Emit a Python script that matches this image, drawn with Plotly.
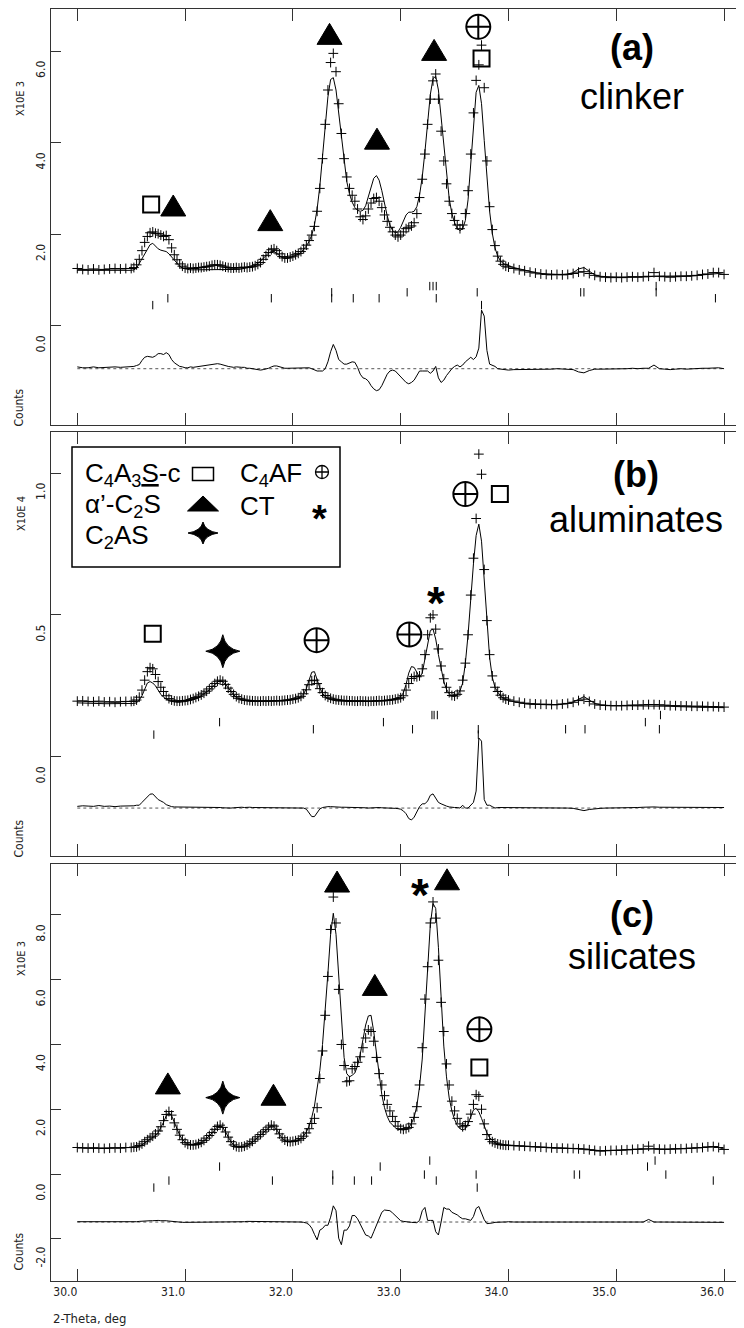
import plotly.graph_objects as go

# the page body adds an 8 px margin, so the figure is drawn 8 px right / down
OFF = 8
W, H = 744 - OFF, 1328 - OFF
NARROW = "Liberation Sans Narrow, Arial Narrow, DejaVu Sans Condensed, Liberation Sans, sans-serif"
SANS = "Liberation Sans, Arial, Helvetica, sans-serif"
INK = "black"
FRAME = "#333333"

# ---------------------------------------------------------------- data
# 2-theta sampling grid (deg)
two_theta = ([round(30.0 + 0.05 * i, 3) for i in range(10)]
             + [round(30.5 + 0.025 * i, 3) for i in range(141)]
             + [round(34.05 + 0.05 * i, 3) for i in range(40)])

# (a) clinker, counts x 10^3
obs_a = [1.25, 1.23, 1.22, 1.24, 1.22, 1.23, 1.24, 1.25, 1.24, 1.25,
         1.25, 1.27, 1.33, 1.45, 1.64, 1.82, 1.95, 2.03, 2.05, 2.02, 2.01, 1.98, 1.95, 1.97, 1.88, 1.70, 1.55, 1.44, 1.35, 1.30, 1.26,
         1.25, 1.26, 1.25, 1.26, 1.27, 1.27, 1.28, 1.29, 1.30, 1.32, 1.33, 1.33, 1.32, 1.30, 1.28, 1.27, 1.26, 1.26, 1.27, 1.26, 1.27, 1.28, 1.27, 1.28, 1.29, 1.31, 1.34, 1.38,
         1.45, 1.53, 1.60, 1.66, 1.68, 1.64, 1.57, 1.51, 1.48, 1.48, 1.50, 1.52,
         1.55, 1.58, 1.62, 1.68, 1.76, 1.86, 1.98, 2.17, 2.50, 3.00, 3.65, 4.40, 5.15, 5.75, 5.95, 5.55, 4.85, 4.20, 3.65, 3.25,
         3.00, 2.85, 2.72, 2.55, 2.38, 2.32, 2.40, 2.55, 2.68, 2.78, 2.80, 2.72, 2.58, 2.42, 2.28, 2.15, 2.05, 1.98, 1.94, 1.98,
         2.05, 2.12, 2.15, 2.18, 2.25, 2.45, 2.80, 3.20, 3.75, 4.40, 4.95, 5.35, 5.50, 4.95, 4.25, 3.60, 3.10, 2.72, 2.45, 2.30,
         2.20, 2.12, 2.20, 2.45, 2.95, 3.75, 4.65, 5.36, 5.70, 6.13, 5.20, 3.60, 2.60, 2.10, 1.75, 1.52, 1.41, 1.34, 1.30, 1.28,
         1.25, 1.22, 1.20, 1.17, 1.15, 1.13, 1.12, 1.11, 1.12, 1.11, 1.12, 1.14, 1.17, 1.18, 1.14, 1.10, 1.07, 1.06, 1.05, 1.06,
         1.05, 1.06, 1.07, 1.06, 1.07, 1.08, 1.16, 1.08, 1.07, 1.06, 1.07, 1.08, 1.08, 1.09, 1.10, 1.12, 1.13, 1.16, 1.16, 1.12]
calc_a = [1.21, 1.21, 1.20, 1.20, 1.20, 1.20, 1.20, 1.21, 1.21, 1.21,
          1.21, 1.22, 1.26, 1.36, 1.46, 1.57, 1.68, 1.77, 1.80, 1.74, 1.68, 1.65, 1.64, 1.62, 1.57, 1.50, 1.42, 1.35, 1.30, 1.26, 1.24,
          1.23, 1.22, 1.22, 1.22, 1.22, 1.22, 1.22, 1.22, 1.22, 1.22, 1.22, 1.22, 1.22, 1.22, 1.22, 1.22, 1.22, 1.23, 1.23, 1.23, 1.24, 1.25, 1.26, 1.27, 1.29, 1.32, 1.36, 1.41,
          1.47, 1.54, 1.59, 1.62, 1.62, 1.58, 1.53, 1.49, 1.47, 1.47, 1.49, 1.51,
          1.53, 1.56, 1.60, 1.66, 1.74, 1.84, 1.98, 2.20, 2.55, 3.05, 3.70, 4.40, 5.00, 5.38, 5.42, 5.15, 4.65, 4.05, 3.55, 3.15,
          2.88, 2.70, 2.58, 2.52, 2.50, 2.52, 2.62, 2.82, 3.05, 3.22, 3.28, 3.18, 2.95, 2.66, 2.40, 2.20, 2.08, 2.03, 2.05, 2.15,
          2.30, 2.42, 2.48, 2.48, 2.50, 2.60, 2.85, 3.25, 3.80, 4.45, 5.05, 5.40, 5.45, 5.15, 4.55, 3.85, 3.25, 2.78, 2.45, 2.25,
          2.12, 2.08, 2.12, 2.30, 2.75, 3.50, 4.45, 5.10, 5.25, 4.85, 4.05, 3.20, 2.50, 2.02, 1.70, 1.52, 1.42, 1.36, 1.33, 1.31,
          1.27, 1.24, 1.21, 1.18, 1.16, 1.14, 1.13, 1.12, 1.12, 1.12, 1.13, 1.16, 1.24, 1.27, 1.18, 1.11, 1.08, 1.07, 1.06, 1.06,
          1.06, 1.06, 1.06, 1.06, 1.06, 1.07, 1.08, 1.08, 1.08, 1.08, 1.08, 1.08, 1.09, 1.09, 1.10, 1.11, 1.12, 1.14, 1.14, 1.12]

# (b) aluminates, counts x 10^4
obs_b = [0.196, 0.197, 0.195, 0.194, 0.196, 0.193, 0.194, 0.192, 0.194, 0.195,
         0.195, 0.196, 0.200, 0.210, 0.235, 0.270, 0.300, 0.314, 0.310, 0.290, 0.265, 0.245, 0.230, 0.215, 0.205, 0.200, 0.197, 0.196, 0.196, 0.197, 0.198,
         0.199, 0.202, 0.205, 0.209, 0.213, 0.218, 0.224, 0.231, 0.239, 0.248, 0.258, 0.266, 0.270, 0.266, 0.255, 0.242, 0.230, 0.220, 0.212, 0.206, 0.203, 0.200, 0.199, 0.198, 0.197, 0.197, 0.196, 0.196,
         0.197, 0.196, 0.197, 0.196, 0.197, 0.198, 0.197, 0.198, 0.199, 0.200, 0.201, 0.203,
         0.205, 0.208, 0.213, 0.222, 0.236, 0.254, 0.268, 0.270, 0.258, 0.240, 0.226, 0.216, 0.210, 0.206, 0.203, 0.201,
         0.200, 0.199, 0.198, 0.198, 0.197, 0.197, 0.196, 0.196, 0.197, 0.196, 0.196, 0.195, 0.196, 0.196, 0.197, 0.198, 0.197, 0.198, 0.199, 0.200, 0.201, 0.203, 0.205, 0.208,
         0.215, 0.235, 0.258, 0.276, 0.283, 0.282, 0.285, 0.310, 0.360, 0.430, 0.490, 0.500, 0.450, 0.380, 0.320, 0.275, 0.245, 0.226, 0.216, 0.214, 0.220, 0.232,
         0.270, 0.330, 0.430, 0.570, 0.700, 0.840, 1.067, 0.996, 0.660, 0.480, 0.360, 0.285, 0.245, 0.230, 0.217, 0.208, 0.203, 0.200,
         0.196, 0.192, 0.189, 0.187, 0.186, 0.185, 0.185, 0.184, 0.184, 0.186, 0.188, 0.192, 0.198, 0.203, 0.195, 0.186, 0.182, 0.181, 0.180, 0.180,
         0.180, 0.181, 0.182, 0.182, 0.183, 0.184, 0.184, 0.183, 0.182, 0.180, 0.180, 0.179, 0.179, 0.178, 0.178, 0.178, 0.177, 0.177, 0.176, 0.175]
calc_b = [0.190, 0.189, 0.188, 0.188, 0.187, 0.187, 0.187, 0.187, 0.187, 0.188,
          0.188, 0.188, 0.190, 0.200, 0.215, 0.240, 0.260, 0.265, 0.260, 0.250, 0.235, 0.220, 0.210, 0.203, 0.198, 0.195, 0.193, 0.192, 0.192, 0.193, 0.194,
          0.196, 0.199, 0.202, 0.206, 0.210, 0.215, 0.221, 0.228, 0.236, 0.245, 0.255, 0.263, 0.268, 0.265, 0.255, 0.242, 0.230, 0.219, 0.210, 0.204, 0.200, 0.198, 0.196, 0.195, 0.195, 0.195, 0.195, 0.195,
          0.195, 0.195, 0.195, 0.195, 0.195, 0.196, 0.196, 0.196, 0.197, 0.198, 0.199, 0.201,
          0.203, 0.206, 0.212, 0.222, 0.240, 0.270, 0.298, 0.300, 0.272, 0.243, 0.224, 0.212, 0.205, 0.201, 0.199, 0.197,
          0.196, 0.196, 0.195, 0.195, 0.195, 0.195, 0.195, 0.195, 0.195, 0.195, 0.195, 0.195, 0.195, 0.195, 0.195, 0.196, 0.196, 0.197, 0.198, 0.199, 0.201, 0.204, 0.207, 0.212,
          0.225, 0.255, 0.295, 0.318, 0.315, 0.295, 0.280, 0.295, 0.345, 0.405, 0.445, 0.450, 0.415, 0.360, 0.305, 0.265, 0.238, 0.222, 0.214, 0.212, 0.218, 0.232,
          0.260, 0.330, 0.430, 0.560, 0.680, 0.780, 0.820, 0.760, 0.630, 0.470, 0.350, 0.280, 0.245, 0.228, 0.215, 0.207, 0.202, 0.198,
          0.194, 0.190, 0.187, 0.185, 0.184, 0.183, 0.183, 0.183, 0.183, 0.185, 0.188, 0.193, 0.203, 0.212, 0.200, 0.188, 0.183, 0.181, 0.180, 0.180,
          0.180, 0.180, 0.180, 0.180, 0.180, 0.180, 0.180, 0.180, 0.179, 0.178, 0.177, 0.176, 0.176, 0.175, 0.175, 0.174, 0.174, 0.174, 0.173, 0.173]

# (c) silicates, counts x 10^3
obs_c = [0.82, 0.81, 0.80, 0.81, 0.80, 0.79, 0.80, 0.81, 0.80, 0.82,
         0.82, 0.83, 0.84, 0.88, 0.93, 1.00, 1.06, 1.12, 1.17, 1.24, 1.33, 1.46, 1.65, 1.84, 1.93, 1.82, 1.58, 1.38, 1.20, 1.06, 0.97,
         0.92, 0.90, 0.90, 0.91, 0.94, 0.98, 1.04, 1.11, 1.19, 1.28, 1.38, 1.47, 1.51, 1.44, 1.30, 1.14, 1.00, 0.90, 0.85, 0.83, 0.84, 0.86, 0.90, 0.95, 1.01, 1.08, 1.15, 1.22,
         1.30, 1.37, 1.45, 1.51, 1.48, 1.38, 1.24, 1.12, 1.05, 1.01, 1.00, 1.01,
         1.03, 1.05, 1.10, 1.17, 1.27, 1.40, 1.56, 1.72, 2.05, 2.95, 3.80, 4.90, 6.10, 7.55, 8.55, 7.75, 5.70, 4.00, 3.35, 2.85,
         2.88, 3.25, 3.32, 3.45, 3.62, 3.90, 4.20, 4.45, 4.40, 4.10, 3.60, 3.10, 2.75, 2.42, 2.15, 1.95, 1.78, 1.62, 1.48, 1.40,
         1.38, 1.40, 1.44, 1.55, 1.75, 2.08, 2.75, 3.90, 5.40, 6.40, 7.75, 8.40, 7.90, 6.60, 5.30, 4.40, 3.40, 2.75, 2.25, 1.95, 1.72, 1.55,
         1.46, 1.50, 1.62, 1.85, 2.15, 2.45, 2.40, 2.00, 1.55, 1.22, 1.07, 1.00, 0.96, 0.93, 0.91, 0.90, 0.89, 0.89,
         0.88, 0.87, 0.86, 0.85, 0.84, 0.83, 0.82, 0.81, 0.80, 0.80, 0.79, 0.79, 0.78, 0.77, 0.75, 0.73, 0.71, 0.72, 0.73, 0.73,
         0.74, 0.75, 0.76, 0.77, 0.78, 0.86, 0.78, 0.77, 0.76, 0.77, 0.78, 0.78, 0.79, 0.80, 0.81, 0.82, 0.84, 0.85, 0.82, 0.76]
calc_c = [0.81, 0.80, 0.80, 0.80, 0.80, 0.80, 0.80, 0.80, 0.80, 0.81,
          0.81, 0.82, 0.83, 0.86, 0.90, 0.96, 1.02, 1.08, 1.13, 1.19, 1.28, 1.42, 1.60, 1.80, 1.90, 1.80, 1.58, 1.38, 1.20, 1.07, 0.98,
          0.93, 0.91, 0.90, 0.91, 0.93, 0.97, 1.03, 1.10, 1.18, 1.27, 1.37, 1.46, 1.50, 1.44, 1.30, 1.14, 1.00, 0.90, 0.85, 0.83, 0.83, 0.85, 0.88, 0.93, 0.99, 1.06, 1.13, 1.20,
          1.28, 1.35, 1.44, 1.50, 1.47, 1.37, 1.23, 1.11, 1.04, 1.00, 0.99, 1.00,
          1.02, 1.05, 1.10, 1.18, 1.30, 1.48, 1.75, 2.10, 2.60, 3.20, 4.00, 5.00, 6.20, 7.40, 8.05, 7.40, 6.20, 4.70, 3.60, 3.10,
          3.00, 3.05, 3.12, 3.35, 3.70, 4.15, 4.60, 4.88, 4.90, 4.40, 3.70, 3.00, 2.45, 2.05, 1.78, 1.60, 1.50, 1.43, 1.38, 1.36,
          1.36, 1.38, 1.44, 1.56, 1.76, 2.10, 2.70, 3.55, 4.95, 6.35, 7.70, 8.35, 8.20, 7.00, 5.30, 3.95, 3.00, 2.35, 1.95, 1.68, 1.50, 1.40,
          1.36, 1.40, 1.55, 1.80, 1.98, 2.03, 1.92, 1.72, 1.48, 1.27, 1.12, 1.03, 0.97, 0.93, 0.91, 0.90, 0.89, 0.88,
          0.88, 0.87, 0.86, 0.85, 0.84, 0.83, 0.82, 0.81, 0.80, 0.80, 0.79, 0.79, 0.79, 0.78, 0.76, 0.74, 0.72, 0.72, 0.72, 0.73,
          0.74, 0.75, 0.76, 0.77, 0.78, 0.78, 0.78, 0.77, 0.76, 0.77, 0.78, 0.78, 0.79, 0.80, 0.81, 0.82, 0.83, 0.84, 0.82, 0.77]

for _n, _s in [("obs_a", obs_a), ("calc_a", calc_a), ("obs_b", obs_b), ("calc_b", calc_b), ("obs_c", obs_c), ("calc_c", calc_c)]:
    assert len(_s) == len(two_theta), (_n, len(_s), len(two_theta))

# difference-curve baselines
diff_offset_a = -0.94
diff_offset_b = -0.181
diff_offset_c = -1.48

# reflection positions (2-theta), one list per phase row
refl_a = [[33.27, 33.30, 33.33, 35.37],
          [32.36, 33.06, 33.71, 34.67, 34.70, 35.37],
          [30.84, 31.80, 32.36, 32.56, 32.80, 33.33, 35.92],
          [30.70, 33.75]]
refl_b = [[33.29, 33.31, 33.34, 35.41],
          [31.32, 32.84, 35.27],
          [32.19, 33.11, 33.72, 34.53, 34.71, 35.40],
          [30.71, 33.72]]
refl_c = [[33.27, 35.36],
          [31.32, 32.81, 35.29],
          [32.37, 33.22, 33.70, 34.61, 34.66, 35.46],
          [30.85, 31.81, 32.37, 32.57, 32.73, 33.33, 35.90],
          [30.71, 33.71]]

# phase labels above peaks (2-theta, intensity)
tri_a_x, tri_a_y = [30.89, 31.79, 32.34, 32.78, 33.31], [2.55, 2.23, 6.30, 4.01, 5.95]
sq_a_x, sq_a_y = [30.685, 33.75], [2.65, 5.84]
oplus_a_x, oplus_a_y = [33.72], [6.53]

sq_b_x, sq_b_y = [30.70, 33.92], [0.434, 0.926]
star_b_x, star_b_y = [31.35], [0.372]
oplus_b_x, oplus_b_y = [32.22, 33.08, 33.60], [0.411, 0.431, 0.926]
ast_b_x, ast_b_y = [33.33], [0.578]

tri_c_x, tri_c_y = [30.84, 31.82, 32.41, 32.76, 33.43], [2.69, 2.34, 8.92, 5.73, 8.99]
star_c_x, star_c_y = [31.35], [2.36]
oplus_c_x, oplus_c_y = [33.73], [4.47]
sq_c_x, sq_c_y = [33.73], [3.29]
ast_c_x, ast_c_y = [33.18], [8.92]

# axes
x_ticks = [30, 31, 32, 33, 34, 35, 36]
x_tick_text = ["30.0", "31.0", "32.0", "33.0", "34.0", "35.0", "36.0"]
y_ticks_a, y_tick_text_a = [0, 2, 4, 6], ["0.0", "2.0", "4.0", "6.0"]
y_ticks_b, y_tick_text_b = [0, 0.5, 1.0], ["0.0", "0.5", "1.0"]
y_ticks_c, y_tick_text_c = [-2, 0, 2, 4, 6, 8], ["-2.0", "0.0", "2.0", "4.0", "6.0", "8.0"]

panel_titles = ["(a)", "(b)", "(c)"]
panel_names = ["clinker", "aluminates", "silicates"]
scale_labels = ["X10E 3", "X10E 4", "X10E 3"]

legend_left = ["C<sub>4</sub>A<sub>3</sub><u>S</u>-c", "α’-C<sub>2</sub>S", "C<sub>2</sub>AS"]
legend_right = ["C<sub>4</sub>AF", "CT"]

# ---------------------------------------------------------------- layout geometry (screen pixels)
X_LEFT = 51
X_RANGE = [29.756, 36.185]
panel_px = [(9, 425), (432, 856), (864, 1281)]
y_ranges = [[-2.17, 6.92], [-0.35, 1.145], [-3.30, 9.57]]
refl_levels = [[0.865, 0.73, 0.60, 0.45],
               [0.147, 0.122, 0.097, 0.078],
               [0.417, 0.232, -0.015, -0.20, -0.417]]


def px(x):
    return (x - OFF) / W


def py(y):
    return 1 - (y - OFF) / H


fig = go.Figure()
shapes = []
annotations = []


def pixshape(xa, ya, xref, yref, **kw):
    d = dict(xref=xref, yref=yref, xsizemode="pixel", ysizemode="pixel", xanchor=xa, yanchor=ya)
    d.update(kw)
    return d


def tri(xa, ya, xref, yref, w=25, h=21):
    return [pixshape(xa, ya, xref, yref, type="path",
                     path=f"M{-w/2:.1f},{-h/3:.1f} L{w/2:.1f},{-h/3:.1f} L0,{2*h/3:.1f} Z",
                     fillcolor=INK, line=dict(color=INK, width=1))]


def rect(xa, ya, xref, yref, w=16, h=16, lw=2):
    return [pixshape(xa, ya, xref, yref, type="rect", x0=-w/2, x1=w/2, y0=-h/2, y1=h/2,
                     fillcolor="rgba(0,0,0,0)", line=dict(color=INK, width=lw))]


def oplus(xa, ya, xref, yref, d=24, lw=2):
    r = d / 2
    return [pixshape(xa, ya, xref, yref, type="circle", x0=-r, x1=r, y0=-r, y1=r,
                     fillcolor="rgba(0,0,0,0)", line=dict(color=INK, width=lw)),
            pixshape(xa, ya, xref, yref, type="path",
                     path=f"M{-r:.1f},0 L{r:.1f},0 M0,{-r:.1f} L0,{r:.1f}",
                     line=dict(color=INK, width=lw))]


def star4(xa, ya, xref, yref, w=34, h=33, c=2.5):
    a, b = w / 2, h / 2
    p = (f"M{-a:.1f},0 Q{-c},{c} 0,{b:.1f} Q{c},{c} {a:.1f},0 "
         f"Q{c},{-c} 0,{-b:.1f} Q{-c},{-c} {-a:.1f},0 Z")
    return [pixshape(xa, ya, xref, yref, type="path", path=p, fillcolor=INK, line=dict(color=INK, width=1))]


panels = [
    dict(obs=obs_a, calc=calc_a, off=diff_offset_a, refl=refl_a,
         yt=y_ticks_a, ytt=y_tick_text_a,
         tri=(tri_a_x, tri_a_y), sq=(sq_a_x, sq_a_y), oplus=(oplus_a_x, oplus_a_y),
         star=([], []), ast=([], [])),
    dict(obs=obs_b, calc=calc_b, off=diff_offset_b, refl=refl_b,
         yt=y_ticks_b, ytt=y_tick_text_b,
         tri=([], []), sq=(sq_b_x, sq_b_y), oplus=(oplus_b_x, oplus_b_y),
         star=(star_b_x, star_b_y), ast=(ast_b_x, ast_b_y)),
    dict(obs=obs_c, calc=calc_c, off=diff_offset_c, refl=refl_c,
         yt=y_ticks_c, ytt=y_tick_text_c,
         tri=(tri_c_x, tri_c_y), sq=(sq_c_x, sq_c_y), oplus=(oplus_c_x, oplus_c_y),
         star=(star_c_x, star_c_y), ast=(ast_c_x, ast_c_y)),
]

layout_axes = {}
for k, p in enumerate(panels, start=1):
    xa, ya, yr_name = f"x{k}", f"y{k}", f"y{k + 3}"
    top, bot = panel_px[k - 1]
    yr = y_ranges[k - 1]

    # observed
    fig.add_trace(go.Scatter(x=two_theta, y=p["obs"], xaxis=xa, yaxis=ya, mode="markers",
                             marker=dict(symbol="cross-thin-open", size=7, color=INK,
                                         line=dict(color=INK, width=1)),
                             hoverinfo="skip", showlegend=False))
    # calculated
    fig.add_trace(go.Scatter(x=two_theta, y=p["calc"], xaxis=xa, yaxis=ya, mode="lines",
                             line=dict(color=INK, width=1), hoverinfo="skip", showlegend=False))
    # difference baseline & curve
    fig.add_trace(go.Scatter(x=[two_theta[0], two_theta[-1]], y=[p["off"], p["off"]],
                             xaxis=xa, yaxis=ya, mode="lines",
                             line=dict(color="#555555", width=1, dash="dot"),
                             hoverinfo="skip", showlegend=False))
    diff = [o - c + p["off"] for o, c in zip(p["obs"], p["calc"])]
    fig.add_trace(go.Scatter(x=two_theta, y=diff, xaxis=xa, yaxis=ya, mode="lines",
                             line=dict(color=INK, width=1), hoverinfo="skip", showlegend=False))
    # reflection markers
    for row, lev in zip(p["refl"], refl_levels[k - 1]):
        fig.add_trace(go.Scatter(x=row, y=[lev] * len(row), xaxis=xa, yaxis=ya, mode="markers",
                                 marker=dict(symbol="line-ns-open", size=6, color=INK,
                                             line=dict(color=INK, width=1)),
                                 hoverinfo="skip", showlegend=False))
    # invisible trace carrying the right-hand tick axis
    fig.add_trace(go.Scatter(x=[two_theta[0]], y=[p["off"]], xaxis=xa, yaxis=yr_name, mode="markers",
                             marker=dict(opacity=0), hoverinfo="skip", showlegend=False))

    # peak labels
    for X, Y in zip(*p["tri"]):
        shapes += tri(X, Y, xa, ya)
    for X, Y in zip(*p["sq"]):
        shapes += rect(X, Y, xa, ya)
    for X, Y in zip(*p["oplus"]):
        shapes += oplus(X, Y, xa, ya)
    for X, Y in zip(*p["star"]):
        shapes += star4(X, Y, xa, ya)
    for X, Y in zip(*p["ast"]):
        annotations.append(dict(x=X, y=Y, xref=xa, yref=ya, text="<b>*</b>", showarrow=False,
                                font=dict(family=SANS, size=46, color=INK), yshift=-10))

    dom = [py(bot), py(top)]
    sfx = "" if k == 1 else str(k)
    layout_axes["xaxis" + sfx] = dict(
        domain=[px(X_LEFT), 1.0], range=X_RANGE, anchor=ya, tickvals=x_ticks, ticktext=x_tick_text,
        ticks="inside", ticklen=12, tickwidth=1, tickcolor=FRAME, showline=True, linecolor=FRAME,
        linewidth=1, mirror="ticks", showgrid=False, zeroline=False, showticklabels=(k == 3),
        tickfont=dict(family=NARROW, size=12, color="#222"), ticklabelshift=-12)
    layout_axes["yaxis" + sfx] = dict(
        domain=dom, range=yr, anchor=xa, tickvals=p["yt"], ticktext=p["ytt"], ticks="inside",
        ticklen=10, tickwidth=1, tickcolor=FRAME, showline=True, linecolor=FRAME, linewidth=1,
        mirror=False, showgrid=False, zeroline=False, tickangle=-90, ticklabelshift=20,
        tickfont=dict(family=NARROW, size=12, color="#222"))
    layout_axes["yaxis" + str(k + 3)] = dict(
        overlaying=ya, side="right", anchor=xa, range=yr, tickvals=p["yt"], ticks="inside",
        ticklen=4, tickwidth=1, tickcolor=FRAME, showline=False, showticklabels=False,
        showgrid=False, zeroline=False)

# panel captions
cap_title_y = [48, 475, 914]
cap_name_y = [97, 519, 956]
cap_x = [632, 636, 632]
for i in range(3):
    annotations.append(dict(x=px(cap_x[i]), y=py(cap_title_y[i]), xref="paper", yref="paper",
                            text=f"<b>{panel_titles[i]}</b>", showarrow=False,
                            font=dict(family=SANS, size=36, color=INK), xanchor="center", yanchor="middle"))
    annotations.append(dict(x=px(cap_x[i]), y=py(cap_name_y[i]), xref="paper", yref="paper",
                            text=panel_names[i], showarrow=False,
                            font=dict(family=SANS, size=36, color=INK), xanchor="center", yanchor="middle"))

# axis side labels
scale_y = [98, 513, 958]
counts_y = [408, 839, 1252]
for i in range(3):
    annotations.append(dict(x=px(21), y=py(scale_y[i]), xref="paper", yref="paper", text=scale_labels[i],
                            textangle=-90, showarrow=False, font=dict(family=NARROW, size=11, color="#222"),
                            xanchor="center", yanchor="middle"))
    annotations.append(dict(x=px(18.5), y=py(counts_y[i]), xref="paper", yref="paper", text="Counts",
                            textangle=-90, showarrow=False, font=dict(family=NARROW, size=12, color="#222"),
                            xanchor="center", yanchor="middle"))
annotations.append(dict(x=px(51), y=py(1318), xref="paper", yref="paper", text="2-Theta, deg",
                        showarrow=False, font=dict(family=NARROW, size=13, color="#222"),
                        xanchor="left", yanchor="middle"))

# legend box in panel (b)
shapes.append(dict(type="rect", xref="paper", yref="paper", x0=px(72), x1=px(340), y0=py(567), y1=py(447),
                   line=dict(color=INK, width=1.5), fillcolor="white"))
leg_rows = [474.5, 505.5, 536.5]
for i, t in enumerate(legend_left):
    annotations.append(dict(x=px(83), y=py(leg_rows[i]), xref="paper", yref="paper", text=t, showarrow=False,
                            font=dict(family=SANS, size=26, color=INK), xanchor="left", yanchor="middle"))
for i, t in enumerate(legend_right):
    annotations.append(dict(x=px(238), y=py(leg_rows[i]), xref="paper", yref="paper", text=t, showarrow=False,
                            font=dict(family=SANS, size=26, color=INK), xanchor="left", yanchor="middle"))
shapes += rect(px(203), py(474), "paper", "paper", w=21, h=13, lw=1.5)
shapes += tri(px(203), py(506), "paper", "paper", w=31, h=15)
shapes += star4(px(203), py(533), "paper", "paper", w=30, h=22, c=2)
shapes += oplus(px(322), py(472), "paper", "paper", d=13, lw=1.3)
annotations.append(dict(x=px(319), y=py(511), xref="paper", yref="paper", text="<b>*</b>", showarrow=False,
                        font=dict(family=SANS, size=38, color=INK), yshift=-8))

fig.update_layout(width=W, height=H, margin=dict(l=0, r=0, t=0, b=0, pad=0),
                  paper_bgcolor="white", plot_bgcolor="white", showlegend=False,
                  shapes=shapes, annotations=annotations, **layout_axes)

fig.write_html("out.html")
